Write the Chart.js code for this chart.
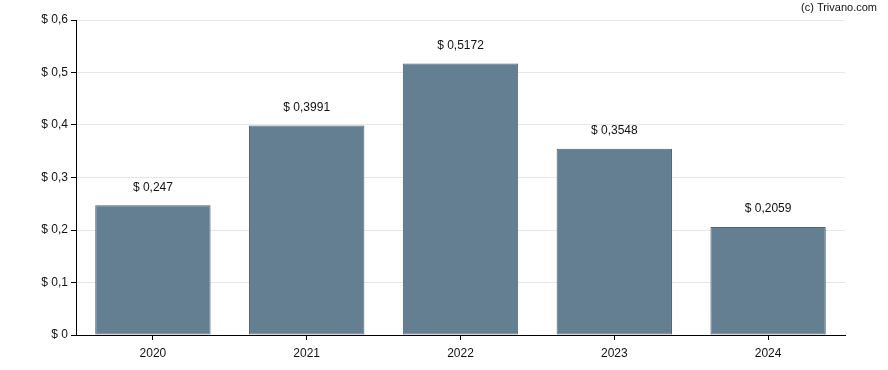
<!DOCTYPE html>
<html>
<head>
<meta charset="utf-8">
<script src="https://cdn.jsdelivr.net/npm/chart.js@4"></script>
<style>
  html, body { margin: 0; padding: 0; background: #fff; }
  #wrap { width: 888px; height: 370px; position: relative; }
</style>
</head>
<body>
<div id="wrap"><canvas id="chart"></canvas></div>
<script>
// Chart data
const YEARS = ["2020", "2021", "2022", "2023", "2024"];
const DIVIDENDS = [0.247, 0.3991, 0.5172, 0.3548, 0.2059];
const Y_TICKS = [0, 0.1, 0.2, 0.3, 0.4, 0.5, 0.6];

const FONT = "'Liberation Sans', Arial, sans-serif";

const fmt = v => "$ " + String(v).replace(".", ",");

// Value labels above bars + watermark
const labelPlugin = {
  id: "labels",
  afterDatasetsDraw(chart) {
    const ctx = chart.ctx;
    const meta = chart.getDatasetMeta(0);
    ctx.save();
    ctx.font = "12px " + FONT;
    ctx.fillStyle = "#111";
    ctx.textAlign = "center";
    ctx.textBaseline = "middle";
    meta.data.forEach((bar, i) => {
      ctx.fillText(fmt(DIVIDENDS[i]), bar.x, bar.y - 18);
    });
    ctx.font = "11px " + FONT;
    ctx.textAlign = "right";
    ctx.fillText("(c) Trivano.com", 877, 8);
    ctx.restore();
  }
};

new Chart(document.getElementById("chart"), {
  type: "bar",
  data: {
    labels: YEARS,
    datasets: [{
      data: DIVIDENDS,
      backgroundColor: "#657f92",
      borderColor: "#4b6276",
      borderWidth: 1,
      borderSkipped: false,
      categoryPercentage: 0.75,
      barPercentage: 1
    }]
  },
  options: {
    responsive: true,
    maintainAspectRatio: false,
    animation: false,
    layout: { padding: { top: 20, right: 43, left: 0, bottom: 0 } },
    plugins: {
      legend: { display: false },
      tooltip: { enabled: false }
    },
    scales: {
      x: {
        grid: { offset: false, color: "transparent", tickColor: "#000", tickLength: 5 },
        border: { color: "#000", width: 1 },
        ticks: { color: "#111", font: { family: FONT, size: 12 }, padding: 6 },
        afterFit: s => { s.height = 35; }
      },
      y: {
        min: 0,
        max: 0.6,
        afterBuildTicks: s => { s.ticks = Y_TICKS.map(v => ({ value: v })); },
        grid: { color: "#e6e6e6", tickColor: "#000", tickLength: 5 },
        border: { color: "#000", width: 1 },
        ticks: {
          color: "#111",
          font: { family: FONT, size: 12 },
          padding: 3,
          callback: v => fmt(Math.round(v * 10) / 10)
        },
        afterFit: s => { s.width = 76; }
      }
    }
  },
  plugins: [labelPlugin]
});
</script>
</body>
</html>
